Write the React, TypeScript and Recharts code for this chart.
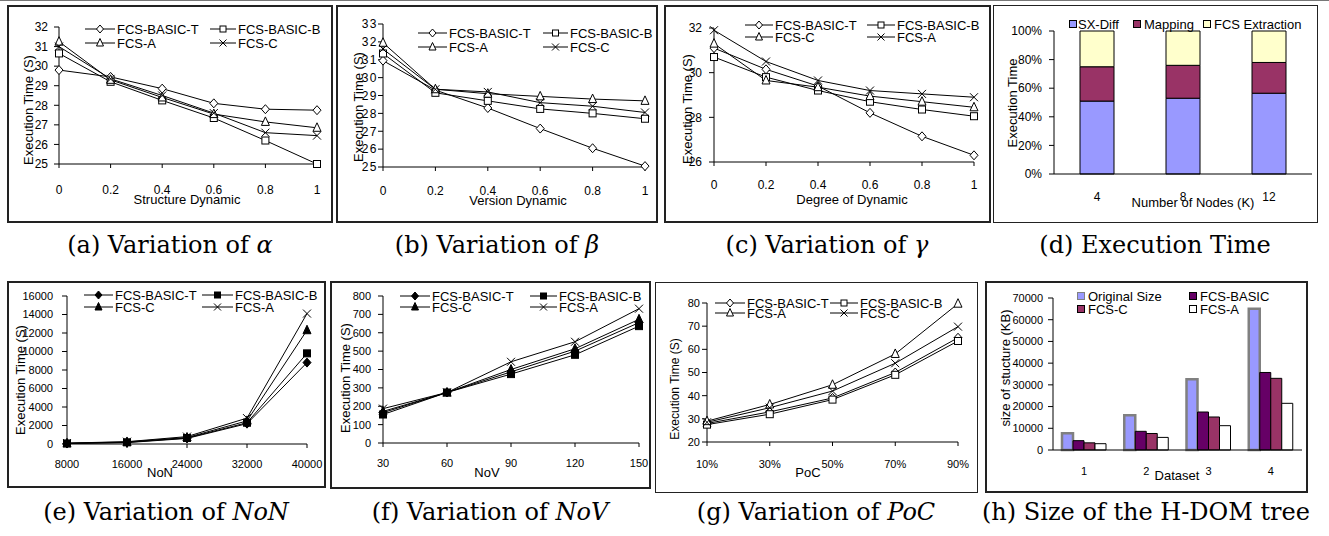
import React from 'react';
import { LineChart, Line, XAxis, YAxis, BarChart, Bar } from 'recharts';

const FONT = "'Liberation Sans', Arial, sans-serif";
const SERIF = "'DejaVu Serif', serif";

// ---------- (a) Variation of alpha ----------
const alphaX = [0, 0.2, 0.4, 0.6, 0.8, 1];
const alphaBasicT = [29.8, 29.45, 28.85, 28.1, 27.8, 27.75];
const alphaBasicB = [30.65, 29.2, 28.25, 27.35, 26.2, 25.0];
const alphaA = [31.25, 29.3, 28.4, 27.55, 27.15, 26.85];
const alphaC = [31.0, 29.35, 28.5, 27.6, 26.6, 26.45];
const alphaYTicks = [25, 26, 27, 28, 29, 30, 31, 32];

// ---------- (b) Variation of beta ----------
const betaX = [0, 0.2, 0.4, 0.6, 0.8, 1];
const betaBasicT = [30.95, 29.3, 28.3, 27.15, 26.05, 25.05];
const betaBasicB = [31.35, 29.15, 28.7, 28.25, 28.0, 27.7];
const betaA = [31.95, 29.35, 29.1, 28.95, 28.8, 28.7];
const betaC = [31.6, 29.35, 29.2, 28.6, 28.4, 28.05];
const betaYTicks = [25, 26, 27, 28, 29, 30, 31, 32, 33];

// ---------- (c) Variation of gamma ----------
const gammaX = [0, 0.2, 0.4, 0.6, 0.8, 1];
const gammaBasicT = [31.1, 30.15, 29.4, 28.2, 27.15, 26.3];
const gammaBasicB = [30.7, 29.8, 29.2, 28.7, 28.35, 28.05];
const gammaC = [31.3, 29.65, 29.35, 28.95, 28.7, 28.45];
const gammaA = [31.9, 30.5, 29.65, 29.2, 29.05, 28.9];
const gammaYTicks = [26, 28, 30, 32];

// ---------- (d) Execution Time ----------
const nodeCats = ['4', '8', '12'];
const sxDiff = [51, 53, 56.5];
const mappingPart = [24, 23, 21.5];
const fcsExtraction = [25, 24, 22];
const pctTicks = [0, 20, 40, 60, 80, 100];

// ---------- (e) Variation of NoN ----------
const nonX = [8000, 16000, 24000, 32000, 40000];
const nonBasicT = [50, 150, 600, 2200, 8800];
const nonBasicB = [60, 180, 650, 2300, 9800];
const nonC = [80, 220, 700, 2500, 12300];
const nonA = [100, 250, 800, 2800, 14100];
const nonYTicks = [0, 2000, 4000, 6000, 8000, 10000, 12000, 14000, 16000];

// ---------- (f) Variation of NoV ----------
const novX = [30, 60, 90, 120, 150];
const novBasicT = [165, 275, 387, 500, 655];
const novBasicB = [155, 275, 375, 480, 636];
const novC = [172, 275, 400, 513, 673];
const novA = [187, 275, 442, 551, 731];
const novYTicks = [0, 100, 200, 300, 400, 500, 600, 700, 800];

// ---------- (g) Variation of PoC ----------
const pocX = [10, 30, 50, 70, 90];
const pocBasicT = [28, 33, 39, 50, 65];
const pocBasicB = [27.5, 32, 38.3, 49, 63.6];
const pocA = [29, 36.2, 44.7, 58, 79.7];
const pocC = [28.5, 34.8, 42, 54, 69.8];
const pocYTicks = [20, 30, 40, 50, 60, 70, 80];

// ---------- (h) Size of the H-DOM tree ----------
const datasetCats = ['1', '2', '3', '4'];
const originalSize = [7700, 16000, 32600, 65000];
const fcsBasicSize = [4300, 8600, 17500, 35700];
const fcsCSize = [3300, 7600, 15200, 33000];
const fcsASize = [2900, 5800, 11200, 21500];
const sizeYTicks = [0, 10000, 20000, 30000, 40000, 50000, 60000, 70000];

type Shape = 'diamond' | 'square' | 'triangle' | 'cross';
type SeriesDef = { key: string; name: string; values: number[]; shape: Shape; filled: boolean };
type Box = [number, number, number, number]; // left, top, right, bottom

function Marker({ shape, cx, cy, filled, s = 4 }: { shape: Shape; cx: number; cy: number; filled: boolean; s?: number }) {
  const fill = filled ? '#000' : '#fff';
  if (shape === 'diamond')
    return (
      <polygon
        points={`${cx},${cy - s - 0.5} ${cx + s},${cy} ${cx},${cy + s + 0.5} ${cx - s},${cy}`}
        fill={fill}
        stroke="#000"
        strokeWidth={1}
      />
    );
  if (shape === 'square')
    return <rect x={cx - s + 0.5} y={cy - s + 0.5} width={2 * s - 1} height={2 * s - 1} fill={fill} stroke="#000" strokeWidth={1} />;
  if (shape === 'triangle')
    return (
      <polygon
        points={`${cx},${cy - s - 1} ${cx + s},${cy + s - 0.5} ${cx - s},${cy + s - 0.5}`}
        fill={fill}
        stroke="#000"
        strokeWidth={1}
      />
    );
  return (
    <g stroke="#000" strokeWidth={1}>
      <line x1={cx - s} y1={cy - s} x2={cx + s} y2={cy + s} />
      <line x1={cx - s} y1={cy + s} x2={cx + s} y2={cy - s} />
    </g>
  );
}

function Text({ x, y, text, rotate, size = 13, family = FONT }: { x: number; y: number; text: React.ReactNode; rotate?: boolean; size?: number; family?: string }) {
  return (
    <div
      style={{
        position: 'absolute',
        left: x,
        top: y,
        transform: `translate(-50%,-50%)${rotate ? ' rotate(-90deg)' : ''}`,
        fontSize: size,
        fontFamily: family,
        whiteSpace: 'nowrap',
        lineHeight: 1,
        color: '#000',
      }}
    >
      {text}
    </div>
  );
}

type LegendLine = { label: string; shape: Shape; filled: boolean; lineL: number; lineR: number; textL: number; y: number };

function LineLegend({ items, size = 13 }: { items: LegendLine[]; size?: number }) {
  return (
    <>
      {items.map((it, i) => {
        const w = it.lineR - it.lineL;
        return (
          <React.Fragment key={i}>
            <svg style={{ position: 'absolute', left: it.lineL, top: it.y - 6 }} width={w} height={12}>
              <line x1={0} y1={6} x2={w} y2={6} stroke="#000" strokeWidth={1} />
              <Marker shape={it.shape} cx={w / 2} cy={6} filled={it.filled} s={3.5} />
            </svg>
            <span
              style={{
                position: 'absolute',
                left: it.textL,
                top: it.y,
                transform: 'translateY(-50%)',
                fontSize: size,
                fontFamily: FONT,
                lineHeight: 1,
                whiteSpace: 'nowrap',
              }}
            >
              {it.label}
            </span>
          </React.Fragment>
        );
      })}
    </>
  );
}

type LegendBox = { label: string; fill: string; stroke: string; x: number; textL: number; y: number };

function BoxLegend({ items, size = 13 }: { items: LegendBox[]; size?: number }) {
  return (
    <>
      {items.map((it, i) => (
        <React.Fragment key={i}>
          <div
            style={{
              position: 'absolute',
              left: it.x,
              top: it.y - 4,
              width: 8,
              height: 8,
              boxSizing: 'border-box',
              background: it.fill,
              border: `1px solid ${it.stroke}`,
            }}
          />
          <span
            style={{
              position: 'absolute',
              left: it.textL,
              top: it.y,
              transform: 'translateY(-50%)',
              fontSize: size,
              fontFamily: FONT,
              lineHeight: 1,
              whiteSpace: 'nowrap',
            }}
          >
            {it.label}
          </span>
        </React.Fragment>
      ))}
    </>
  );
}

function FrameBorder({ frame, width = 2 }: { frame: Box; width?: number }) {
  return (
    <div
      style={{
        position: 'absolute',
        left: frame[0],
        top: frame[1],
        width: frame[2] - frame[0],
        height: frame[3] - frame[1],
        boxSizing: 'border-box',
        border: `${width}px solid #222`,
        pointerEvents: 'none',
      }}
    />
  );
}

function LinePanel({
  frame,
  plot,
  xs,
  series,
  yDomain,
  yTicks,
  xFmt,
  xOff,
  yOff,
  fontSize,
  yLetterSpacing,
}: {
  frame: Box;
  plot: Box;
  xs: number[];
  series: SeriesDef[];
  yDomain: [number, number];
  yTicks: number[];
  xFmt?: (v: number) => string;
  xOff: number;
  yOff: number;
  fontSize: number;
  yLetterSpacing?: number;
}) {
  const data = xs.map((x, i) => {
    const row: Record<string, number> = { x };
    series.forEach((s) => {
      row[s.key] = s.values[i];
    });
    return row;
  });
  const W = frame[2] - frame[0];
  const H = frame[3] - frame[1];
  return (
    <div style={{ position: 'absolute', left: frame[0], top: frame[1] }}>
      <LineChart
        width={W}
        height={H}
        data={data}
        margin={{ top: plot[1] - frame[1], right: frame[2] - plot[2], bottom: 0, left: 0 }}
      >
        <XAxis
          dataKey="x"
          type="number"
          domain={[xs[0], xs[xs.length - 1]]}
          ticks={xs}
          interval={0}
          tickFormatter={xFmt}
          height={frame[3] - plot[3]}
          stroke="#000"
          tickSize={4}
          tickMargin={xOff - 4}
          tick={{ fill: '#000', fontSize, fontFamily: FONT }}
        />
        <YAxis
          type="number"
          domain={yDomain}
          ticks={yTicks}
          interval={0}
          width={plot[0] - frame[0]}
          stroke="#000"
          tickSize={5}
          tickMargin={Math.max(0, yOff - 5)}
          tick={{ fill: '#000', fontSize, fontFamily: FONT, letterSpacing: yLetterSpacing }}
        />
        {series.map((s) => (
          <Line
            key={s.key}
            dataKey={s.key}
            name={s.name}
            stroke="#000"
            strokeWidth={1}
            isAnimationActive={false}
            activeDot={false}
            dot={(p: any) => (
              <Marker key={`${s.key}-${p.index}`} shape={s.shape} cx={p.cx} cy={p.cy} filled={s.filled} />
            )}
          />
        ))}
      </LineChart>
    </div>
  );
}

function mkSeries(names: string[], keys: string[], vals: number[][], shapes: Shape[], filled: boolean): SeriesDef[] {
  return names.map((n, i) => ({ key: keys[i], name: n, values: vals[i], shape: shapes[i], filled }));
}

function legend2x2(
  labels: string[],
  shapes: Shape[],
  filled: boolean,
  rows: [number, number],
  c1: [number, number, number],
  c2: [number, number, number]
): LegendLine[] {
  return labels.map((l, i) => {
    const c = i % 2 === 0 ? c1 : c2;
    return { label: l, shape: shapes[i], filled, lineL: c[0], lineR: c[1], textL: c[2], y: rows[i < 2 ? 0 : 1] };
  });
}

export default function App() {
  // frames and plot areas (page coordinates)
  const fA: Box = [7, 5, 333, 223];
  const pA: Box = [59, 27, 317, 164];
  const fB: Box = [336, 5, 658, 223];
  const pB: Box = [383, 24, 645, 167];
  const fC: Box = [664, 5, 991, 223];
  const pC: Box = [714, 28, 974, 162];
  const fD: Box = [993, 5, 1318, 223];
  const pD: Box = [1054, 31, 1312, 174];
  const fE: Box = [7, 281, 326, 488];
  const pE: Box = [67, 296, 307, 444];
  const fF: Box = [330, 281, 651, 489];
  const pF: Box = [383, 296, 639, 443];
  const fG: Box = [655, 282, 978, 493];
  const pG: Box = [707, 303, 958, 442];
  const fH: Box = [985, 281, 1308, 493];
  const pH: Box = [1053, 298, 1302, 450];

  const keys = ['s1', 's2', 's3', 's4'];

  const seriesA = mkSeries(
    ['FCS-BASIC-T', 'FCS-BASIC-B', 'FCS-A', 'FCS-C'],
    keys,
    [alphaBasicT, alphaBasicB, alphaA, alphaC],
    ['diamond', 'square', 'triangle', 'cross'],
    false
  );
  const seriesB = mkSeries(
    ['FCS-BASIC-T', 'FCS-BASIC-B', 'FCS-A', 'FCS-C'],
    keys,
    [betaBasicT, betaBasicB, betaA, betaC],
    ['diamond', 'square', 'triangle', 'cross'],
    false
  );
  const seriesC = mkSeries(
    ['FCS-BASIC-T', 'FCS-BASIC-B', 'FCS-C', 'FCS-A'],
    keys,
    [gammaBasicT, gammaBasicB, gammaC, gammaA],
    ['diamond', 'square', 'triangle', 'cross'],
    false
  );
  const seriesE = mkSeries(
    ['FCS-BASIC-T', 'FCS-BASIC-B', 'FCS-C', 'FCS-A'],
    keys,
    [nonBasicT, nonBasicB, nonC, nonA],
    ['diamond', 'square', 'triangle', 'cross'],
    true
  );
  const seriesF = mkSeries(
    ['FCS-BASIC-T', 'FCS-BASIC-B', 'FCS-C', 'FCS-A'],
    keys,
    [novBasicT, novBasicB, novC, novA],
    ['diamond', 'square', 'triangle', 'cross'],
    true
  );
  const seriesG = mkSeries(
    ['FCS-BASIC-T', 'FCS-BASIC-B', 'FCS-A', 'FCS-C'],
    keys,
    [pocBasicT, pocBasicB, pocA, pocC],
    ['diamond', 'square', 'triangle', 'cross'],
    false
  );

  const dData = nodeCats.map((c, i) => ({ c, sx: sxDiff[i], map: mappingPart[i], fcs: fcsExtraction[i] }));
  const hData = datasetCats.map((c, i) => ({ c, orig: originalSize[i], basic: fcsBasicSize[i], fc: fcsCSize[i], fa: fcsASize[i] }));

  const shapes4: Shape[] = ['diamond', 'square', 'triangle', 'cross'];

  return (
    <div
      style={{
        position: 'absolute',
        left: 0,
        top: 0,
        width: 1329,
        height: 536,
        background: '#fff',
        overflow: 'hidden',
        fontFamily: FONT,
      }}
    >
      <div style={{ position: 'absolute', left: 0, top: 0, width: 1329, height: 1, background: '#777' }} />

      {/* (a) */}
      <LinePanel frame={fA} plot={pA} xs={alphaX} series={seriesA} yDomain={[25, 32]} yTicks={alphaYTicks} xOff={21.5} yOff={11} fontSize={12} />
      <LineLegend items={legend2x2(seriesA.map((s) => s.name), shapes4, false, [29, 43], [85, 115, 117], [210, 236, 238])} />
      <Text x={187} y={199} text="Structure Dynamic" />
      <Text x={28} y={110} text="Execution Time (S)" rotate />
      <FrameBorder frame={fA} />

      {/* (b) */}
      <LinePanel frame={fB} plot={pB} xs={betaX} series={seriesB} yDomain={[25, 33]} yTicks={betaYTicks} xOff={19.5} yOff={5} fontSize={12} yLetterSpacing={1.5} />
      <LineLegend items={legend2x2(seriesB.map((s) => s.name), shapes4, false, [33, 47], [418, 447, 449], [543, 568, 570])} />
      <Text x={518} y={200} text="Version Dynamic" />
      <Text x={358} y={107} text="Execution Time (S)" rotate />
      <FrameBorder frame={fB} />

      {/* (c) */}
      <LinePanel frame={fC} plot={pC} xs={gammaX} series={seriesC} yDomain={[26, 32]} yTicks={gammaYTicks} xOff={18.5} yOff={12} fontSize={12} />
      <LineLegend items={legend2x2(seriesC.map((s) => s.name), shapes4, false, [25, 37], [745, 773, 775], [867, 895, 897])} />
      <Text x={852} y={199} text="Degree of Dynamic" />
      <Text x={687} y={109} text="Execution Time (S)" rotate />
      <FrameBorder frame={fC} />

      {/* (d) */}
      <div style={{ position: 'absolute', left: fD[0], top: fD[1] }}>
        <BarChart
          width={fD[2] - fD[0]}
          height={fD[3] - fD[1]}
          data={dData}
          margin={{ top: pD[1] - fD[1], right: fD[2] - pD[2], bottom: 0, left: 0 }}
        >
          <XAxis
            dataKey="c"
            height={fD[3] - pD[3]}
            stroke="#000"
            tickLine={false}
            tickSize={0}
            tickMargin={18.5}
            interval={0}
            tick={{ fill: '#000', fontSize: 12, fontFamily: FONT }}
          />
          <YAxis
            type="number"
            domain={[0, 100]}
            ticks={pctTicks}
            interval={0}
            tickFormatter={(v: number) => `${v}%`}
            width={pD[0] - fD[0]}
            stroke="#000"
            tickSize={5}
            tickMargin={7}
            tick={{ fill: '#000', fontSize: 12, fontFamily: FONT }}
          />
          <Bar dataKey="sx" name="SX-Diff" stackId="a" fill="#9999FF" stroke="#000" strokeWidth={1} barSize={34} isAnimationActive={false} />
          <Bar dataKey="map" name="Mapping" stackId="a" fill="#993366" stroke="#000" strokeWidth={1} barSize={34} isAnimationActive={false} />
          <Bar dataKey="fcs" name="FCS Extraction" stackId="a" fill="#FFFFCC" stroke="#000" strokeWidth={1} barSize={34} isAnimationActive={false} />
        </BarChart>
      </div>
      <BoxLegend
        items={[
          { label: 'SX-Diff', fill: '#9999FF', stroke: '#000', x: 1069, textL: 1078, y: 24 },
          { label: 'Mapping', fill: '#993366', stroke: '#000', x: 1133, textL: 1144, y: 24 },
          { label: 'FCS Extraction', fill: '#FFFFCC', stroke: '#000', x: 1203, textL: 1214, y: 24 },
        ]}
      />
      <Text x={1193} y={202} text="Number of Nodes (K)" />
      <Text x={1012} y={103} text="Execution Time" rotate />
      <FrameBorder frame={fD} width={1} />

      {/* (e) */}
      <LinePanel frame={fE} plot={pE} xs={nonX} series={seriesE} yDomain={[0, 16000]} yTicks={nonYTicks} xOff={16.5} yOff={14} fontSize={11} />
      <LineLegend items={legend2x2(seriesE.map((s) => s.name), shapes4, true, [295, 307], [84, 113, 115], [202, 233, 235])} />
      <Text x={160} y={472} text="NoN" />
      <Text x={20} y={380} text="Execution Time (S)" rotate />
      <FrameBorder frame={fE} />

      {/* (f) */}
      <LinePanel frame={fF} plot={pF} xs={novX} series={seriesF} yDomain={[0, 800]} yTicks={novYTicks} xOff={16.5} yOff={12} fontSize={11} />
      <LineLegend items={legend2x2(seriesF.map((s) => s.name), shapes4, true, [296, 307], [400, 430, 432], [530, 557, 559])} />
      <Text x={487} y={472} text="NoV" />
      <Text x={345} y={378} text="Execution Time (S)" rotate />
      <FrameBorder frame={fF} />

      {/* (g) */}
      <LinePanel
        frame={fG}
        plot={pG}
        xs={pocX}
        series={seriesG}
        yDomain={[20, 80]}
        yTicks={pocYTicks}
        xFmt={(v: number) => `${v}%`}
        xOff={18.5}
        yOff={7}
        fontSize={11}
      />
      <LineLegend items={legend2x2(seriesG.map((s) => s.name), shapes4, false, [303, 313], [715, 745, 747], [830, 858, 860])} />
      <Text x={808} y={472} text="PoC" />
      <Text x={675} y={389} text="Execution Time (S)" rotate size={12} />
      <FrameBorder frame={fG} width={1} />

      {/* (h) */}
      <div style={{ position: 'absolute', left: fH[0], top: fH[1] }}>
        <BarChart
          width={fH[2] - fH[0]}
          height={fH[3] - fH[1]}
          data={hData}
          barGap={0}
          margin={{ top: pH[1] - fH[1], right: fH[2] - pH[2], bottom: 0, left: 0 }}
        >
          <XAxis
            dataKey="c"
            height={fH[3] - pH[3]}
            stroke="#000"
            tickLine={false}
            tickSize={0}
            tickMargin={17.5}
            interval={0}
            tick={{ fill: '#000', fontSize: 11, fontFamily: FONT }}
          />
          <YAxis
            type="number"
            domain={[0, 70000]}
            ticks={sizeYTicks}
            interval={0}
            width={pH[0] - fH[0]}
            stroke="#000"
            tickSize={5}
            tickMargin={5}
            tick={{ fill: '#000', fontSize: 11, fontFamily: FONT }}
          />
          <Bar dataKey="orig" name="Original Size" fill="#9999FF" stroke="#808080" strokeWidth={2.5} barSize={11} isAnimationActive={false} />
          <Bar dataKey="basic" name="FCS-BASIC" fill="#660066" stroke="#000" strokeWidth={1} barSize={11} isAnimationActive={false} />
          <Bar dataKey="fc" name="FCS-C" fill="#993366" stroke="#000" strokeWidth={1} barSize={11} isAnimationActive={false} />
          <Bar dataKey="fa" name="FCS-A" fill="#FFFFFF" stroke="#000" strokeWidth={1} barSize={11} isAnimationActive={false} />
        </BarChart>
      </div>
      <BoxLegend
        items={[
          { label: 'Original Size', fill: '#9999FF', stroke: '#808080', x: 1077, textL: 1088, y: 296 },
          { label: 'FCS-BASIC', fill: '#660066', stroke: '#000', x: 1189, textL: 1200, y: 296 },
          { label: 'FCS-C', fill: '#993366', stroke: '#000', x: 1077, textL: 1088, y: 309 },
          { label: 'FCS-A', fill: '#FFFFFF', stroke: '#000', x: 1189, textL: 1200, y: 309 },
        ]}
      />
      <Text x={1177} y={475} text="Dataset" />
      <Text x={1005} y={368} text="size of stucture (KB)" rotate />
      <FrameBorder frame={fH} />

      {/* captions */}
      <Text x={170} y={245} size={24} family={SERIF} text={<span>(a) Variation of <i>α</i></span>} />
      <Text x={497} y={245} size={24} family={SERIF} text={<span>(b) Variation of <i>β</i></span>} />
      <Text x={827} y={245} size={24} family={SERIF} text={<span>(c) Variation of <i>γ</i></span>} />
      <Text x={1155} y={245} size={24} family={SERIF} text="(d) Execution Time" />
      <Text x={166} y={512} size={24} family={SERIF} text={<span>(e) Variation of <i>NoN</i></span>} />
      <Text x={490} y={512} size={24} family={SERIF} text={<span>(f) Variation of <i>NoV</i></span>} />
      <Text x={816} y={512} size={24} family={SERIF} text={<span>(g) Variation of <i>PoC</i></span>} />
      <Text x={1146} y={512} size={24} family={SERIF} text="(h) Size of the H-DOM tree" />
    </div>
  );
}
